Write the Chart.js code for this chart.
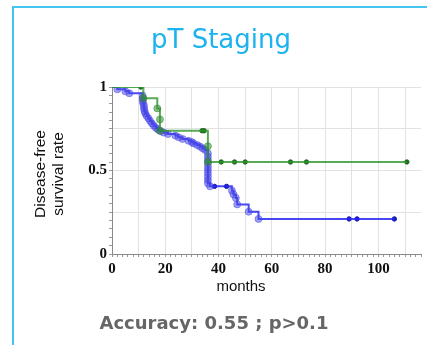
<!DOCTYPE html>
<html>
<head>
<meta charset="utf-8">
<script src="https://cdn.jsdelivr.net/npm/chart.js@4.4.0/dist/chart.umd.min.js"></script>
<style>
  html, body { margin: 0; padding: 0; background: #fff; overflow: hidden; }
  #frame { position: absolute; left: 12px; top: 6px; width: 440px; height: 360px; border: 2px solid #45c6f0; box-sizing: border-box; }
  #wrap { position: absolute; left: 0; top: 0; width: 427px; height: 345px; }
</style>
</head>
<body>
<div id="frame"></div>
<div id="wrap"><canvas id="km" width="427" height="345"></canvas></div>
<script>
// Kaplan-Meier curves: event times (months) and survival after each event
const blueTimes = [0, 2, 5, 6.5, 11.5, 11.5, 11.5, 11.7, 12, 12, 12.2, 12.5, 13, 13.7, 14.3, 15, 15.7, 16.5, 17.3, 18.2,
  19.4, 21, 23.8, 25, 26.5, 28.7, 30, 30.6, 32, 33.1, 34, 35, 36, 36, 36, 36, 36, 36, 36, 36, 36, 36,
  36.8, 45, 45.6, 46.5, 47, 51.3, 55];
const blueSurv = [1, 0.986, 0.974, 0.962, 0.947, 0.932, 0.917, 0.902, 0.887, 0.872, 0.857, 0.842, 0.827, 0.812, 0.797, 0.782, 0.768, 0.755, 0.745, 0.736,
  0.727, 0.718, 0.709, 0.699, 0.689, 0.678, 0.67, 0.662, 0.652, 0.643, 0.633, 0.623, 0.603, 0.583, 0.563, 0.543, 0.523, 0.503, 0.483, 0.463, 0.443, 0.423,
  0.405, 0.38, 0.357, 0.335, 0.297, 0.253, 0.21];
const blueCensor = [38.5, 43, 89, 92, 106];

const greenTimes = [0, 11.8, 17, 18, 18, 36, 36];
const greenSurv = [1, 0.932, 0.872, 0.806, 0.738, 0.645, 0.551];
const greenCensor = [10.8, 33.8, 34.6, 41, 46, 50, 67, 73, 110.7];

const xLabels = [0, 20, 40, 60, 80, 100];
const yLabels = [0, 0.5, 1];

const BLUE = "rgba(40,40,245,0.85)";
const GREEN = "rgba(45,150,45,0.8)";

function survAt(times, surv, t) {
  let s = surv[0];
  for (let i = 0; i < times.length; i++) {
    if (times[i] <= t) s = surv[i];
  }
  return s;
}

function stepData(times, surv, censor) {
  const pts = times.map((t, i) => ({ x: t, y: surv[i] }));
  const end = Math.max(...censor);
  pts.push({ x: end, y: surv[surv.length - 1] });
  return pts;
}

function curve(times, surv, censor, line, fill) {
  const n = times.length;
  return {
    data: stepData(times, surv, censor),
    stepped: true,
    borderColor: line,
    borderWidth: 2,
    pointRadius: (c) => (c.dataIndex === 0 || c.dataIndex === n ? 0 : 3.5),
    pointBackgroundColor: fill,
    pointBorderColor: fill,
    pointBorderWidth: 1
  };
}

function censors(times, surv, censor, color) {
  return {
    data: censor.map((t) => ({ x: t, y: survAt(times, surv, t) })),
    showLine: false,
    pointRadius: 2.2,
    pointBackgroundColor: color,
    pointBorderColor: color
  };
}

const near = (v, list) => list.some((l) => Math.abs(v - l) < 1e-6);

const textPlugin = {
  id: "texts",
  afterDraw(chart) {
    const ctx = chart.ctx;
    ctx.save();
    ctx.textAlign = "center";
    ctx.textBaseline = "alphabetic";

    ctx.fillStyle = "#1cb3ef";
    ctx.font = "26px 'DejaVu Sans'";
    ctx.fillText("pT Staging", 221, 48);

    ctx.fillStyle = "#111";
    ctx.font = "15px 'Liberation Sans'";
    ctx.fillText("months", 241, 291);

    ctx.fillStyle = "#666";
    ctx.font = "bold 18px 'DejaVu Sans'";
    ctx.fillText("Accuracy: 0.55 ; p>0.1", 214, 329);

    ctx.fillStyle = "#111";
    ctx.font = "15.5px 'Liberation Sans'";
    ctx.translate(0, 174);
    ctx.rotate(-Math.PI / 2);
    ctx.fillText("Disease-free", 0, 45);
    ctx.fillText("survival rate", 0, 63);
    ctx.restore();
  }
};

new Chart(document.getElementById("km"), {
  type: "line",
  data: {
    datasets: [
      curve(greenTimes, greenSurv, greenCensor, GREEN, "rgba(50,140,50,0.55)"),
      censors(greenTimes, greenSurv, greenCensor, "#1f6a1f"),
      curve(blueTimes, blueSurv, blueCensor, BLUE, "rgba(70,70,230,0.5)"),
      censors(blueTimes, blueSurv, blueCensor, "#1a1ab8")
    ]
  },
  options: {
    responsive: false,
    animation: false,
    layout: { padding: { left: 0, top: 87, right: 6, bottom: 69 } },
    plugins: {
      legend: { display: false },
      tooltip: { enabled: false }
    },
    scales: {
      x: {
        type: "linear",
        min: 0,
        max: 116,
        afterFit: (s) => { s.height = 22; },
        border: { color: "#8a8a8a" },
        grid: {
          color: (c) => (c.tick && c.tick.value % 10 === 0 && c.tick.value <= 110 ? "#e2e2e2" : "transparent"),
          tickColor: "#999",
          tickLength: 3
        },
        ticks: {
          stepSize: 2,
          autoSkip: false,
          maxRotation: 0,
          padding: 3,
          color: "#111",
          font: { family: "'Liberation Serif'", weight: "bold", size: 15 },
          callback: (v) => (near(v, xLabels) ? String(v) : "")
        }
      },
      y: {
        min: 0,
        max: 1,
        afterFit: (s) => { s.width = 112; },
        border: { color: "#8a8a8a" },
        grid: {
          color: (c) => (c.tick && near(c.tick.value * 4, [0, 1, 2, 3, 4]) ? "#e2e2e2" : "transparent"),
          tickColor: "#999",
          tickLength: 3
        },
        ticks: {
          stepSize: 0.05,
          autoSkip: false,
          padding: 2,
          color: "#111",
          font: { family: "'Liberation Serif'", weight: "bold", size: 15 },
          callback: (v) => (near(v, yLabels) ? String(v) : "")
        }
      }
    }
  },
  plugins: [textPlugin]
});
</script>
</body>
</html>
